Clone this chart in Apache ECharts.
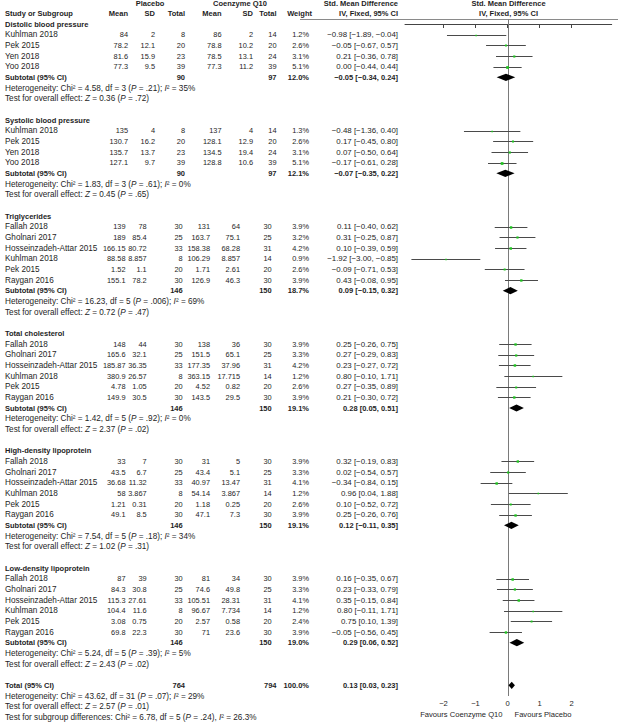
<!DOCTYPE html>
<html><head><meta charset="utf-8">
<script src="https://cdn.jsdelivr.net/npm/echarts@6/dist/echarts.min.js"></script>
<style>html,body{margin:0;padding:0;background:#fff}#c{width:618px;height:722px}</style>
</head><body><div id="c"></div>
<script>
// ---------------- DATA ----------------
const groups = ['Distolic blood pressure','Systolic blood pressure','Triglycerides','Total cholesterol','High-density lipoprotein','Low-density lipoprotein'];
const studyGroup = [0,0,0,0, 1,1,1,1, 2,2,2,2,2,2, 3,3,3,3,3,3, 4,4,4,4,4,4, 5,5,5,5,5,5];
const studyNames = [
 'Kuhlman 2018','Pek 2015','Yen 2018','Yoo 2018',
 'Kuhlman 2018','Pek 2015','Yen 2018','Yoo 2018',
 'Fallah 2018','Gholnari 2017','Hosseinzadeh-Attar 2015','Kuhlman 2018','Pek 2015','Raygan 2016',
 'Fallah 2018','Gholnari 2017','Hosseinzadeh-Attar 2015','Kuhlman 2018','Pek 2015','Raygan 2016',
 'Fallah 2018','Gholnari 2017','Hosseinzadeh-Attar 2015','Kuhlman 2018','Pek 2015','Raygan 2016',
 'Fallah 2018','Gholnari 2017','Hosseinzadeh-Attar 2015','Kuhlman 2018','Pek 2015','Raygan 2016'];
const placeboMean = [84,78.2,81.6,77.3, 135,130.7,135.7,127.1, 139,189,166.15,88.58,1.52,155.1, 148,165.6,185.87,380.9,4.78,149.9, 33,43.5,36.68,58,1.21,49.1, 87,84.3,115.3,104.4,3.08,69.8];
const placeboSD   = [2,12.1,15.9,9.5, 4,16.2,13.7,9.7, 78,85.4,80.72,8.857,1.1,78.2, 44,32.1,36.35,26.57,1.05,30.5, 7,6.7,11.32,3.867,0.31,8.5, 39,30.8,27.61,11.6,0.75,22.3];
const placeboN    = [8,20,23,39, 8,20,23,39, 30,25,33,8,20,30, 30,25,33,8,20,30, 30,25,33,8,20,30, 30,25,33,8,20,30];
const coqMean = [86,78.8,78.5,77.3, 137,128.1,134.5,128.8, 131,163.7,158.38,106.29,1.71,126.9, 138,151.5,177.35,363.15,4.52,143.5, 31,43.4,40.97,54.14,1.18,47.1, 81,74.6,105.51,96.67,2.57,71];
const coqSD   = [2,10.2,13.1,11.2, 4,12.9,19.4,10.6, 64,75.1,68.28,8.857,2.61,46.3, 36,65.1,37.96,17.715,0.82,29.5, 5,5.1,13.47,3.867,0.25,7.3, 34,49.8,28.31,7.734,0.58,23.6];
const coqN    = [14,20,24,39, 14,20,24,39, 30,25,31,14,20,30, 30,25,31,14,20,30, 30,25,31,14,20,30, 30,25,31,14,20,30];
const weights = [1.2,2.6,3.1,5.1, 1.3,2.6,3.1,5.1, 3.9,3.2,4.2,0.9,2.6,3.9, 3.9,3.3,4.2,1.2,2.6,3.9, 3.9,3.3,4.1,1.2,2.6,3.9, 3.9,3.3,4.1,1.2,2.4,3.9];
const smd    = [-0.98,-0.05,0.21,0.00, -0.48,0.17,0.07,-0.17, 0.11,0.31,0.10,-1.92,-0.09,0.43, 0.25,0.27,0.23,0.80,0.27,0.21, 0.32,0.02,-0.34,0.96,0.10,0.25, 0.16,0.23,0.35,0.80,0.75,-0.05];
const ciLow  = [-1.89,-0.67,-0.36,-0.44, -1.36,-0.45,-0.50,-0.61, -0.40,-0.25,-0.39,-3.00,-0.71,-0.08, -0.26,-0.29,-0.27,-0.10,-0.35,-0.30, -0.19,-0.54,-0.84,0.04,-0.52,-0.26, -0.35,-0.33,-0.15,-0.11,0.10,-0.56];
const ciHigh = [-0.04,0.57,0.78,0.44, 0.40,0.80,0.64,0.28, 0.62,0.87,0.59,-0.85,0.53,0.95, 0.75,0.83,0.72,1.71,0.89,0.72, 0.83,0.57,0.15,1.88,0.72,0.76, 0.67,0.79,0.84,1.71,1.39,0.45];

const subN1 = [90,90,146,146,146,146];
const subN2 = [97,97,150,150,150,150];
const subWeight = [12.0,12.1,18.7,19.1,19.1,19.0];
const subSmd  = [-0.05,-0.07,0.09,0.28,0.12,0.29];
const subLow  = [-0.34,-0.35,-0.15,0.05,-0.11,0.06];
const subHigh = [0.24,0.22,0.32,0.51,0.35,0.52];
const hetChi = ['4.58','1.83','16.23','1.42','7.54','5.24'];
const hetDf  = [3,3,5,5,5,5];
const hetP   = ['.21','.61','.006','.92','.18','.39'];
const hetI2  = [35,0,69,0,34,5];
const zVal   = ['0.36','0.45','0.72','2.37','1.02','2.43'];
const zP     = ['.72','.65','.47','.02','.31','.02'];

const totalN1 = 764, totalN2 = 794, totalWeight = 100.0;
const totalSmd = 0.13, totalLow = 0.03, totalHigh = 0.23;
const totalHet = {chi:'43.62', df:31, p:'.07', i2:29};
const totalZ = {z:'2.57', p:'.01'};
const subgroupTest = {chi:'6.78', df:5, p:'.24', i2:'26.3'};
const xTicks = [-2,-1,0,1,2];

// ---------------- LAYOUT / STYLE ----------------
const FONT = 'Arial, "Liberation Sans", sans-serif';
const FS = 8.2;     // names / notes
const NFS = 7.4;    // numeric columns
const CFS = 7.9;    // CI column
const BFS = 7.5;    // bold text
const AFS = 7.6;    // axis / favours text
const TXT = '#1e1e1e';
const COLS_A = {pm:128, psd:155, pn:185, cm:221.5, csd:253, cn:276.5, w:309};
const COLS_B = {pm:125.5, psd:146.7, pn:182.7, cm:210, csd:240, cn:271.7, w:309};
const colsFor = g => (g < 2 ? COLS_A : COLS_B);
const X_NAME = 5, X_CI = 398;

function fmt(v){ return (v < 0 ? '\u2212' : '') + Math.abs(v).toFixed(2); }
function ciText(m,l,h){ return fmt(m) + ' [' + fmt(l) + ', ' + fmt(h) + ']'; }

// build table rows
const rows = [];
let r = 0;
groups.forEach((g, gi) => {
  rows.push({row:r++, type:'title', g:gi});
  studyGroup.forEach((sg, si) => { if (sg === gi) rows.push({row:r++, type:'study', s:si, g:gi}); });
  rows.push({row:r++, type:'subtotal', g:gi});
  rows.push({row:r++, type:'het', g:gi});
  rows.push({row:r++, type:'test', g:gi});
  r++;
});
const totalRow = r;
rows.push({row:r++, type:'total'});
rows.push({row:r++, type:'totalHet'});
rows.push({row:r++, type:'totalTest'});
rows.push({row:r++, type:'subgroupTest'});
rows.push({row:-1.88, type:'head1'});
rows.push({row:-0.94, type:'head2'});

const studyRows = rows.filter(o => o.type === 'study');
const subRows = rows.filter(o => o.type === 'subtotal');

function txt(x, y, text, align, bold, size){
  return {type:'text', x:x, y:y, style:{text:String(text), fill:TXT, fontSize: size || (bold ? BFS : FS), fontFamily:FONT,
    fontWeight: bold ? 'bold' : 'normal', align: align || 'right', verticalAlign:'middle'}};
}
const num = (x, y, v) => txt(x, y, v, 'right', false, NFS);
const RICH = {
  n:{fontSize:FS, fontFamily:FONT, fill:TXT},
  i:{fontSize:FS, fontFamily:FONT, fill:TXT, fontStyle:'italic'}
};
function rich(x, y, text){
  return {type:'text', x:x, y:y, style:{text:text, rich:RICH, fill:TXT, fontSize:FS, fontFamily:FONT, align:'left', verticalAlign:'middle'}};
}
function hetStr(chi, df, p, i2, sep){
  return '{n|Heterogeneity: Chi\u00b2 = ' + chi + ', df = ' + df + ' (}{i|P}{n| = ' + p + ')' + sep + ' }{i|I}{n|\u00b2 = ' + i2 + '%}';
}
function zStr(z, p){
  return '{n|Test for overall effect: }{i|Z}{n| = ' + z + ' (}{i|P}{n| = ' + p + ')}';
}

function renderTable(params, api){
  const o = rows[params.dataIndex];
  const y = api.coord([0, api.value(1)])[1];
  const ch = [];
  if (o.type === 'head1'){
    ch.push(txt(150, y, 'Placebo', 'center', true));
    ch.push(txt(240, y, 'Coenzyme Q10', 'center', true));
    ch.push(txt(X_CI, y, 'Std. Mean Difference', 'right', true));
  } else if (o.type === 'head2'){
    const C = COLS_A;
    ch.push(txt(X_NAME, y, 'Study or Subgroup', 'left', true));
    ch.push(txt(C.pm, y, 'Mean', 'right', true));
    ch.push(txt(C.psd, y, 'SD', 'right', true));
    ch.push(txt(C.pn, y, 'Total', 'right', true));
    ch.push(txt(C.cm, y, 'Mean', 'right', true));
    ch.push(txt(C.csd, y, 'SD', 'right', true));
    ch.push(txt(C.cn, y, 'Total', 'right', true));
    ch.push(txt(C.w + 3, y, 'Weight', 'right', true));
    ch.push(txt(X_CI, y, 'IV, Fixed, 95% CI', 'right', true));
  } else if (o.type === 'title'){
    ch.push(txt(X_NAME, y, groups[o.g], 'left', true));
  } else if (o.type === 'study'){
    const C = colsFor(o.g), s = o.s;
    ch.push(txt(X_NAME, y, studyNames[s], 'left'));
    ch.push(num(C.pm, y, placeboMean[s]));
    ch.push(num(C.psd, y, placeboSD[s]));
    ch.push(num(C.pn, y, placeboN[s]));
    ch.push(num(C.cm, y, coqMean[s]));
    ch.push(num(C.csd, y, coqSD[s]));
    ch.push(num(C.cn, y, coqN[s]));
    ch.push(num(C.w, y, weights[s].toFixed(1) + '%'));
    ch.push(txt(X_CI, y, ciText(smd[s], ciLow[s], ciHigh[s]), 'right', false, CFS));
  } else if (o.type === 'subtotal'){
    const C = colsFor(o.g), g = o.g;
    ch.push(txt(X_NAME, y, 'Subtotal (95% CI)', 'left', true));
    ch.push(txt(C.pn, y, subN1[g], 'right', true));
    ch.push(txt(C.cn, y, subN2[g], 'right', true));
    ch.push(txt(C.w, y, subWeight[g].toFixed(1) + '%', 'right', true));
    ch.push(txt(X_CI, y, ciText(subSmd[g], subLow[g], subHigh[g]), 'right', true));
  } else if (o.type === 'het'){
    ch.push(rich(X_NAME, y, hetStr(hetChi[o.g], hetDf[o.g], hetP[o.g], hetI2[o.g], ';')));
  } else if (o.type === 'test'){
    ch.push(rich(X_NAME, y, zStr(zVal[o.g], zP[o.g])));
  } else if (o.type === 'total'){
    const C = COLS_A;
    ch.push(txt(X_NAME, y, 'Total (95% CI)', 'left', true));
    ch.push(txt(C.pn, y, totalN1, 'right', true));
    ch.push(txt(C.cn, y, totalN2, 'right', true));
    ch.push(txt(C.w, y, totalWeight.toFixed(1) + '%', 'right', true));
    ch.push(txt(X_CI, y, ciText(totalSmd, totalLow, totalHigh), 'right', true));
  } else if (o.type === 'totalHet'){
    ch.push(rich(X_NAME, y, hetStr(totalHet.chi, totalHet.df, totalHet.p, totalHet.i2, ';')));
  } else if (o.type === 'totalTest'){
    ch.push(rich(X_NAME, y, zStr(totalZ.z, totalZ.p)));
  } else if (o.type === 'subgroupTest'){
    ch.push(rich(X_NAME, y, '{n|Test for subgroup differences: Chi\u00b2 = ' + subgroupTest.chi + ', df = ' + subgroupTest.df +
      ' (}{i|P}{n| = ' + subgroupTest.p + '), }{i|I}{n|\u00b2 = ' + subgroupTest.i2 + '%}'));
  }
  return {type:'group', children:ch};
}

function renderStudies(params, api){
  const y = Math.round(api.coord([0, api.value(1)])[1]) + 0.5;
  const xm = api.coord([api.value(0), 0])[0];
  const xl = api.coord([api.value(2), 0])[0];
  const xh = api.coord([api.value(3), 0])[0];
  const s = 1.2 + api.value(4) * 0.3;
  return {type:'group', children:[
    {type:'line', shape:{x1:xl, y1:y, x2:xh, y2:y}, style:{stroke:'#4a4a4a', lineWidth:1}},
    {type:'rect', shape:{x:xm - s/2, y:y - s/2, width:s, height:s}, style:{fill:'#1fc21f'}}
  ]};
}
function renderDiamond(params, api){
  const y = api.coord([0, api.value(1)])[1];
  const xm = api.coord([api.value(0), 0])[0];
  const xl = api.coord([api.value(2), 0])[0];
  const xh = api.coord([api.value(3), 0])[0];
  const h = 3.6;
  return {type:'polygon', shape:{points:[[xl,y],[xm,y-h],[xh,y],[xm,y+h]]}, style:{fill:'#000'}};
}
function renderRefLines(params, api){
  const x0 = Math.round(api.coord([0, 0])[0]) + 0.5;
  const yTop = Math.round(api.coord([0, -0.47])[1]) + 0.5;
  const yBot = api.coord([0, 63])[1];
  const yFav = api.coord([0, 64.7])[1];
  return {type:'group', children:[
    {type:'line', shape:{x1:300, y1:yTop, x2:618, y2:yTop}, style:{stroke:'#8a8a8a', lineWidth:1}},
    {type:'line', shape:{x1:x0, y1:yTop, x2:x0, y2:yBot}, style:{stroke:'#7a7a7a', lineWidth:1}},
    {type:'text', x:x0 - 6, y:yFav, style:{text:'Favours Coenzyme Q10', fill:TXT, fontSize:AFS, fontFamily:FONT, align:'right', verticalAlign:'middle'}},
    {type:'text', x:x0 + 6, y:yFav, style:{text:'Favours Placebo', fill:TXT, fontSize:AFS, fontFamily:FONT, align:'left', verticalAlign:'middle'}},
    {type:'text', x:x0, y:api.coord([0,-1.88])[1], style:{text:'Std. Mean Difference', fill:TXT, fontSize:BFS, fontFamily:FONT, fontWeight:'bold', align:'center', verticalAlign:'middle'}},
    {type:'text', x:x0, y:api.coord([0,-0.94])[1], style:{text:'IV, Fixed, 95% CI', fill:TXT, fontSize:BFS, fontFamily:FONT, fontWeight:'bold', align:'center', verticalAlign:'middle'}}
  ]};
}

const yAxisCommon = {type:'value', min:-2, max:63, inverse:true, show:false};
const chart = echarts.init(document.getElementById('c'), null, {renderer:'svg', width:618, height:722});
chart.setOption({
  animation:false,
  backgroundColor:'#fff',
  grid:[
    {left:0, right:0, top:2.667, bottom:26, containLabel:false, outerBoundsMode:'none'},
    {left:405, right:6.3, top:2.667, bottom:26, containLabel:false, outerBoundsMode:'none'}
  ],
  xAxis:[
    {type:'value', gridIndex:0, min:0, max:618, show:false},
    {type:'value', gridIndex:1, min:-3.2, max:3.25, position:'bottom',
     axisLine:{show:true, lineStyle:{color:'#444', width:1}},
     axisTick:{show:true, customValues:xTicks, length:4, inside:false, lineStyle:{color:'#444'}},
     axisLabel:{show:true, customValues:xTicks, margin:3, fontSize:AFS, fontFamily:FONT, color:TXT,
       formatter: v => (v < 0 ? '\u2212' + (-v) : String(v))},
     splitLine:{show:false}}
  ],
  yAxis:[ Object.assign({gridIndex:0}, yAxisCommon), Object.assign({gridIndex:1}, yAxisCommon) ],
  series:[
    {type:'custom', xAxisIndex:0, yAxisIndex:0, clip:false, silent:true,
     data: rows.map(o => [0, o.row]), renderItem: renderTable},
    {type:'custom', xAxisIndex:1, yAxisIndex:1, clip:false, silent:true,
     data: [[0, 0]], renderItem: renderRefLines},
    {type:'custom', xAxisIndex:1, yAxisIndex:1, clip:false, silent:true,
     data: studyRows.map(o => [smd[o.s], o.row, ciLow[o.s], ciHigh[o.s], weights[o.s]]), renderItem: renderStudies},
    {type:'custom', xAxisIndex:1, yAxisIndex:1, clip:false, silent:true,
     data: subRows.map(o => [subSmd[o.g], o.row, subLow[o.g], subHigh[o.g]])
       .concat([[totalSmd, totalRow, totalLow, totalHigh]]), renderItem: renderDiamond}
  ]
});
</script>
</body></html>
